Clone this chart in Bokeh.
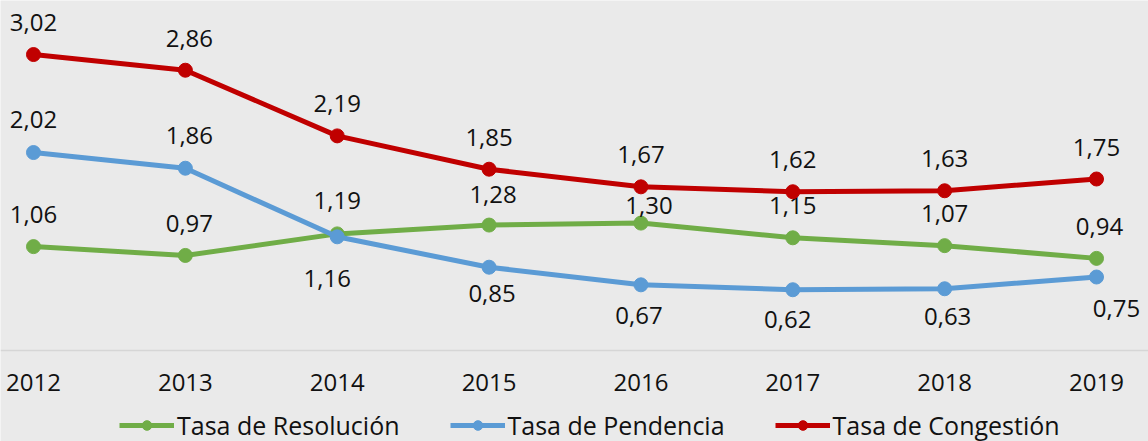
from bokeh.plotting import figure
from bokeh.models import ColumnDataSource, Range1d, Legend, LegendItem, Span
from bokeh.core.properties import value
from bokeh.embed import file_html
from bokeh.resources import INLINE

years = [2012, 2013, 2014, 2015, 2016, 2017, 2018, 2019]
year_labels = ["2012", "2013", "2014", "2015", "2016", "2017", "2018", "2019"]
resolucion = [1.06, 0.97, 1.19, 1.28, 1.30, 1.15, 1.07, 0.94]
pendencia = [2.02, 1.86, 1.16, 0.85, 0.67, 0.62, 0.63, 0.75]
congestion = [3.02, 2.86, 2.19, 1.85, 1.67, 1.62, 1.63, 1.75]
names = ["Tasa de Resolución", "Tasa de Pendencia", "Tasa de Congestión"]
colors = ["#70AD47", "#5B9BD5", "#C00000"]

# label offsets in screen pixels (style only)
off_res = [(0, -32), (4, -32), (0, -33), (4, -31), (8, -18), (0, -32), (0, -32), (3, -32)]
off_pen = [(0, -33), (4, -33), (-10, 42), (3, 26), (-2, 31), (-5, 30), (3, 28), (20, 31)]
off_con = [(0, -32), (4, -32), (0, -32), (0, -32), (0, -32), (0, -32), (0, -32), (0, -32)]

FONT = "Open Sans"
BG = "#EAEAEA"
TXT = "#111111"
FS = "24px"

px_per_year = 151.86
px_per_unit = 98.0
x0 = years[0] - 33 / px_per_year
x1 = years[-1] + 52 / px_per_year

p = figure(frame_width=1148, frame_height=441, output_backend="svg",
           toolbar_location=None, x_axis_location=None, y_axis_location=None,
           x_range=Range1d(x0, x1),
           y_range=Range1d(-91 / px_per_unit, 350 / px_per_unit),
           min_border=0, min_border_left=0, min_border_right=0,
           min_border_top=0, min_border_bottom=0)
p.background_fill_color = BG
p.border_fill_color = BG
p.outline_line_color = None
p.grid.visible = False

# category axis baseline and year tick labels
p.add_layout(Span(location=0, dimension="width", line_color="#D6D6D6", line_width=1.5))
ysrc = ColumnDataSource(dict(x=years, y=[0] * len(years), lab=year_labels))
p.text("x", "y", text="lab", source=ysrc, y_offset=32,
       text_font=value(FONT), text_font_size=FS, text_color=TXT,
       text_align="center", text_baseline="middle")

items = []
for vals, offs, name, col in [(resolucion, off_res, names[0], colors[0]),
                              (pendencia, off_pen, names[1], colors[1]),
                              (congestion, off_con, names[2], colors[2])]:
    src = ColumnDataSource(dict(
        x=years, y=vals,
        lab=[f"{v:.2f}".replace(".", ",") for v in vals],
        dx=[o[0] for o in offs], dy=[o[1] for o in offs]))
    r1 = p.line("x", "y", source=src, line_color=col, line_width=5)
    r2 = p.scatter("x", "y", source=src, size=14, fill_color=col, line_color=col)
    p.text("x", "y", text="lab", source=src, x_offset="dx", y_offset="dy",
           text_font=value(FONT), text_font_size=FS, text_color=TXT,
           text_align="center", text_baseline="middle")
    items.append(LegendItem(label=name, renderers=[r1, r2]))

legend = Legend(items=items, orientation="horizontal", location=(119, -1),
                label_text_font=FONT, label_text_font_size="25px",
                label_text_color=TXT, glyph_width=55, glyph_height=24,
                label_standoff=3, spacing=50, padding=0, margin=0,
                background_fill_alpha=0, border_line_color=None)
p.add_layout(legend, "center")

open("out.html", "w").write(file_html(p, INLINE))
